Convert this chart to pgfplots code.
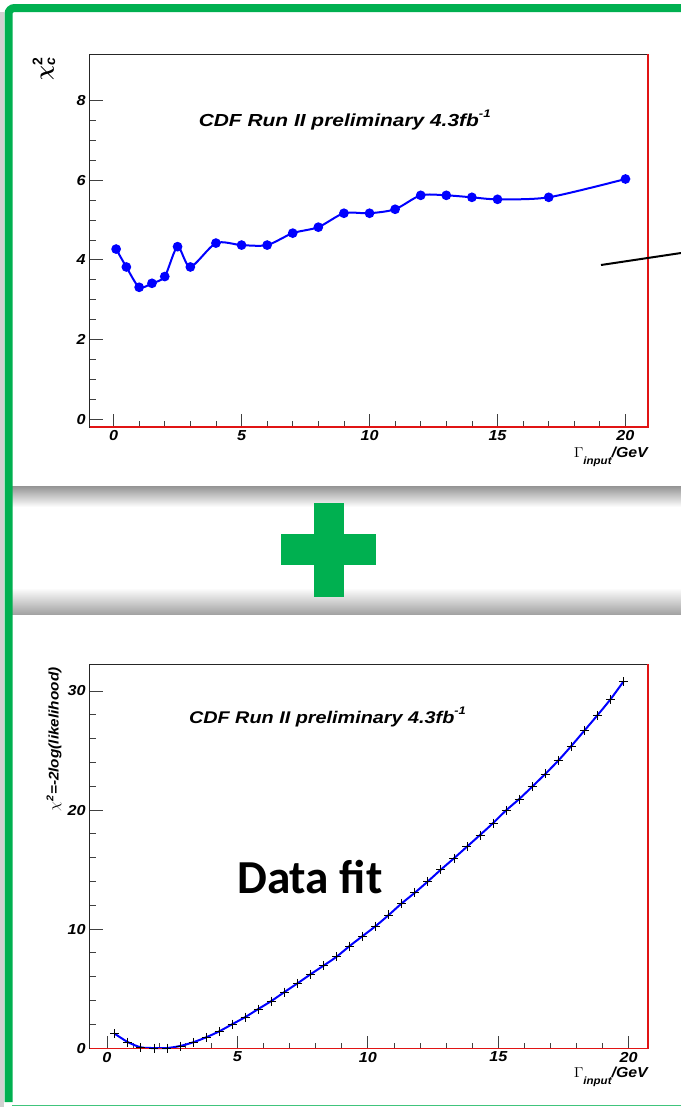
\documentclass[border=0pt]{standalone}
\usepackage{amsmath}
\usepackage{graphicx}
\usepackage{pgfplots}
\pgfplotsset{compat=1.18}
\usepackage{pgfplotstable}
\usepackage{fontspec}
\setmainfont{Liberation Sans}
\newfontfamily\slidefont{Carlito}

\definecolor{slidegreen}{RGB}{0,176,80}
\definecolor{rootred}{RGB}{225,20,20}
\definecolor{rootblue}{RGB}{0,0,255}

\newcommand{\rootfont}[1]{\fontsize{#1}{#1}\selectfont\bfseries\itshape}

% chi^2_c of the template fits versus the input width
\pgfplotstableread{
x     y
0.1   4.27
0.5   3.82
1     3.31
1.5   3.41
2     3.58
2.5   4.33
3     3.82
4     4.42
5     4.37
6     4.37
7     4.67
8     4.82
9     5.17
10    5.17
11    5.27
12    5.62
13    5.62
14    5.57
15    5.52
17    5.57
20    6.03
}\chicdata

% -2 log(likelihood) scan of the data fit
\pgfplotstableread{
x     y
0.3   1.20
0.8   0.50
1.3   0.06
1.8   0.00
2.3   0.00
2.8   0.17
3.3   0.48
3.8   0.90
4.3   1.40
4.8   2.00
5.3   2.60
5.8   3.28
6.3   3.95
6.8   4.70
7.3   5.43
7.8   6.19
8.3   6.92
8.8   7.67
9.3   8.57
9.8   9.41
10.3  10.25
10.8  11.18
11.3  12.16
11.8  13.05
12.3  14.00
12.8  14.99
13.3  15.94
13.8  16.92
14.3  17.90
14.8  18.90
15.3  19.97
15.8  20.92
16.3  21.96
16.8  23.03
17.3  24.15
17.8  25.38
18.3  26.67
18.8  27.96
19.3  29.30
19.8  30.80
}\likedata

\pgfplotsset{
  rootframe/.style={
    scale only axis,
    axis line style={black!85, line width=0.9bp},
    tick align=inside,
    xtick pos=bottom, ytick pos=left,
    major tick length=13bp,
    minor tick length=6bp,
    tick style={black!75, line width=0.8bp},
    /pgf/number format/assume math mode=true,
    ticklabel style={font=\rootfont{14.5}, xscale=1.12},
    clip=false,
    every axis x label/.style={at={(axis description cs:1,0)}, anchor=north east, inner sep=0pt, font=\rootfont{14.5}},
    xlabel={\scalebox{1.1}[1]{$\Gamma$\raisebox{-0.5em}{\rootfont{10.5}input}/GeV}},
  },
}

\begin{document}
\begin{tikzpicture}
\useasboundingbox (0,0) rectangle (681bp,-1107bp);
\clip (0,0) rectangle (681bp,-1107bp);
\fill[white] (0,0) rectangle (681bp,-1107bp);
\fill[black!18] (0,-12bp) rectangle (4bp,-1107bp);

% separator band with its drop shadows
\shade[top color=black!42, bottom color=white] (12bp,-486bp) rectangle (681bp,-507bp);
\shade[top color=white, bottom color=black!36] (12bp,-588bp) rectangle (681bp,-614bp);

% green slide frame
\draw[slidegreen, line width=8bp, rounded corners=6bp] (8.5bp,-1102bp) -- (8.5bp,-8bp) -- (700bp,-8bp);
\draw[slidegreen!75, line width=1.5bp] (12bp,-1105.5bp) -- (681bp,-1105.5bp);

% plus sign
\fill[slidegreen] (314bp,-503bp) rectangle (344bp,-597bp);
\fill[slidegreen] (281bp,-534bp) rectangle (376bp,-565bp);

% upper panel: chi^2_c
\begin{axis}[rootframe,
  at={(89.5bp,-427bp)}, anchor=south west,
  width=558.5bp, height=373bp,
  xmin=-0.94, xmax=20.88, ymin=-0.2, ymax=9.17,
  xtick={0,5,...,20}, ytick={0,2,...,8},
  minor x tick num=4, minor y tick num=3,
  every axis y label/.style={at={(axis description cs:-0.0797,1)}, rotate=90, anchor=east, yshift=1bp, font=\fontsize{20}{20}\selectfont},
  ylabel={$\boldsymbol{\chi}^{\textbf{2}}_{\textbf{\textit{c}}}$},
  xlabel style={yshift=-20bp},
]
\addplot[rootblue, line width=2bp, smooth, tension=0.45,
  mark=*, mark size=3.8bp, mark options={fill=rootblue, draw=rootblue, solid}]
  table[x=x, y=y] {\chicdata};
\draw[rootred, line width=1.8bp] (rel axis cs:0,0) -- (rel axis cs:1,0) -- (rel axis cs:1,1);
\node[anchor=base, inner sep=0pt, font=\rootfont{17.5}] at (axis cs:9.03,7.36)
  {\scalebox{1.2}[1]{CDF Run II preliminary 4.3fb\raisebox{0.5em}{\rootfont{11}-1}}};
\end{axis}

% lower panel: likelihood scan
\begin{axis}[rootframe,
  at={(89.5bp,-1048.5bp)}, anchor=south west,
  width=558.5bp, height=384.5bp,
  xmin=-0.67, xmax=20.74, ymin=-0.04, ymax=32.27,
  xtick={0,5,...,20}, ytick={0,10,20,30},
  minor x tick num=4, minor y tick num=4,
  every axis y label/.style={at={(axis description cs:-0.069,1)}, rotate=90, anchor=east, yshift=-3bp, font=\rootfont{14}},
  ylabel={\scalebox{1.1}[1]{$\chi^{\textbf{2}}$=-2log(likelihood)}},
  xlabel style={yshift=-18.5bp},
]
\addplot[rootblue, line width=2bp, smooth, tension=0.5, no markers] table[x=x, y=y] {\likedata};
\addplot[black, only marks, mark=+, mark size=4.5bp, line width=0.8bp] table[x=x, y=y] {\likedata};
\draw[rootred, line width=1.8bp] (rel axis cs:0,0) -- (rel axis cs:1,0) -- (rel axis cs:1,1);
\node[anchor=base, inner sep=0pt, font=\rootfont{17}] at (axis cs:8.45,27.29)
  {\scalebox{1.17}[1]{CDF Run II preliminary 4.3fb\raisebox{0.5em}{\rootfont{11}-1}}};
\end{axis}

% pointer line and slide caption
\draw[black, line width=2bp] (601bp,-265bp) -- (681bp,-253bp);
\node[anchor=base west, inner sep=0pt, font=\slidefont\bfseries\fontsize{47.5}{47.5}\selectfont] at (237bp,-893bp) {Data fit};
\end{tikzpicture}
\end{document}
